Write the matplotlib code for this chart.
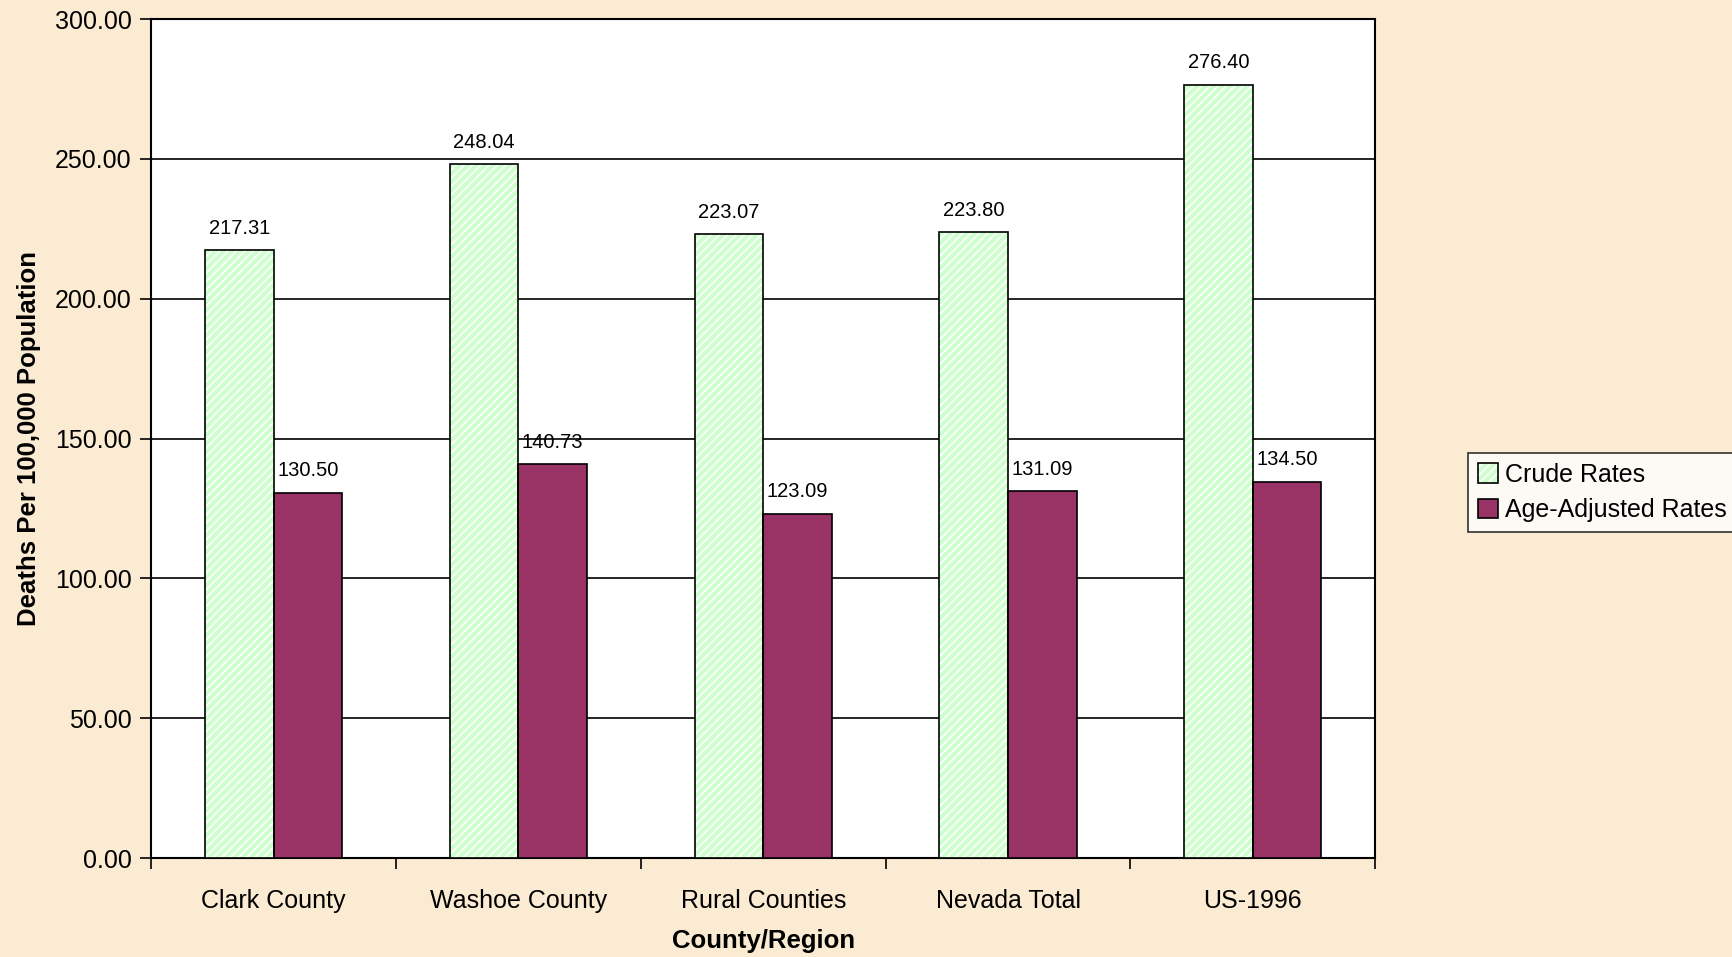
import numpy as np
import matplotlib.pyplot as plt
from matplotlib.patches import Patch

plt.rcParams['font.family'] = ['Liberation Sans', 'DejaVu Sans']
plt.rcParams['hatch.linewidth'] = 3.0

# data
regions = ['Clark County', 'Washoe County', 'Rural Counties', 'Nevada Total', 'US-1996']
crude = [217.31, 248.04, 223.07, 223.80, 276.40]
adjusted = [130.50, 140.73, 123.09, 131.09, 134.50]

bg = '#FAEBD2'
green = '#CCFFCC'
maroon = '#993366'

fig = plt.figure(figsize=(17.32, 9.57), dpi=100, facecolor=bg)
ax = fig.add_axes([0.0873, 0.1034, 0.7067, 0.8767])
ax.set_facecolor('white')

x = np.arange(len(regions))
w = 0.28

# crude bars: green stripes on white, black outline drawn separately
ax.bar(x - w/2, crude, w, color='white', edgecolor=green, hatch='////', linewidth=0, zorder=3)
ax.bar(x - w/2, crude, w, fill=False, edgecolor='black', linewidth=1.2, zorder=4)
ax.bar(x + w/2, adjusted, w, color=maroon, edgecolor='black', linewidth=1.2, zorder=3)

for xi, v in zip(x, crude):
    ax.text(xi - w/2, v + 4.5, f'{v:.2f}', ha='center', va='bottom', fontsize=14.5)
for xi, v in zip(x, adjusted):
    ax.text(xi + w/2, v + 4.5, f'{v:.2f}', ha='center', va='bottom', fontsize=14.5)

ax.set_xlim(-0.5, len(regions) - 0.5)
ax.set_ylim(0, 300)
ax.set_yticks(np.arange(0, 301, 50))
ax.set_yticklabels([f'{t:.2f}' for t in np.arange(0, 301, 50)])
ax.yaxis.grid(True, color='black', linewidth=1.2, zorder=0)
ax.set_axisbelow(True)

ax.set_xticks(x)
ax.set_xticklabels(regions)
ax.set_xticks(np.arange(-0.5, len(regions)), minor=True)
ax.tick_params(axis='x', which='major', length=0, labelsize=18, pad=22)
ax.tick_params(axis='x', which='minor', length=8, width=1.2, direction='out')
ax.tick_params(axis='y', length=8, width=1.2, direction='out', labelsize=18, pad=6)

for s in ax.spines.values():
    s.set_linewidth(1.5)
    s.set_color('black')

ax.set_xlabel('County/Region', fontsize=18.5, fontweight='bold', labelpad=12)
ax.set_ylabel('Deaths Per 100,000 Population', fontsize=18.5, fontweight='bold', labelpad=10)

crude_handle = (Patch(facecolor='white', edgecolor=green, hatch='////', linewidth=0),
                Patch(fill=False, edgecolor='black', linewidth=1.2))
adj_handle = Patch(facecolor=maroon, edgecolor='black', linewidth=1.2)
leg = fig.legend([crude_handle, adj_handle], ['Crude Rates', 'Age-Adjusted Rates'],
                 loc='upper left', bbox_to_anchor=(0.8475, 0.527),
                 fontsize=18, frameon=True, fancybox=False, edgecolor='black',
                 handlelength=0.8, handleheight=0.8, handletextpad=0.3,
                 borderpad=0.4, labelspacing=0.45, borderaxespad=0)
leg.get_frame().set_linewidth(1.2)

fig.savefig('out.png', dpi=100, facecolor=bg)
